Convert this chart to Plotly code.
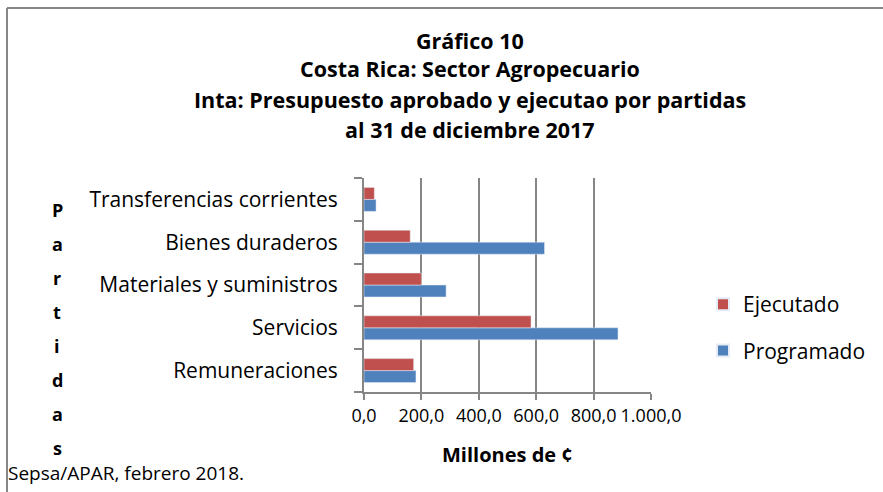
import plotly.graph_objects as go

categories = ["Remuneraciones", "Servicios", "Materiales y suministros",
              "Bienes duraderos", "Transferencias corrientes"]
ejecutado = [173, 582, 200, 161, 36]
programado = [181, 885, 286, 629, 42]
x_ticks = [0, 200, 400, 600, 800, 1000]
axis_letters = list("Partidas")

W, H = 883, 492
L, R, T, B = 364, 651, 178, 392

def px(x):
    return (x - L) / (R - L)

def py(y):
    return (B - y) / (B - T)

FONT = "Open Sans, Liberation Sans, Arial"

fig = go.Figure()
fig.add_trace(go.Bar(y=categories, x=programado, name="Programado", orientation="h",
                     legendgroup="p", legendrank=2, marker=dict(color="#4F81BD")))
fig.add_trace(go.Bar(y=categories, x=ejecutado, name="Ejecutado", orientation="h",
                     legendgroup="e", legendrank=1, marker=dict(color="#C0504D")))

title_lines = ["Gráfico 10", "Costa Rica: Sector Agropecuario",
               "Inta: Presupuesto aprobado y ejecutao por partidas",
               "al 31 de diciembre 2017"]
title_y = [40, 68, 99, 129]
annotations = []
for t, yy in zip(title_lines, title_y):
    annotations.append(dict(text="<b>%s</b>" % t, x=px(470), y=py(yy), xref="paper", yref="paper",
                            showarrow=False, xanchor="center", yanchor="middle",
                            font=dict(size=21.5, family=FONT, color="#000")))
for i, c in enumerate(axis_letters):
    annotations.append(dict(text="<b>%s</b>" % c, x=px(57), y=py(210 + i * 34.0),
                            xref="paper", yref="paper", showarrow=False,
                            xanchor="center", yanchor="middle",
                            font=dict(size=18, family=FONT, color="#000")))
annotations.append(dict(text="<b>Millones de ¢</b>", x=px(507), y=py(454), xref="paper", yref="paper",
                        showarrow=False, xanchor="center", yanchor="middle",
                        font=dict(size=20, family=FONT, color="#000")))
annotations.append(dict(text="Sepsa/APAR, febrero 2018.", x=px(6), y=py(473), xref="paper", yref="paper",
                        showarrow=False, xanchor="left", yanchor="middle",
                        font=dict(size=19, family=FONT, color="#000")))

shapes = [
    dict(type="line", xref="paper", yref="paper", x0=px(7), x1=px(W + 5), y0=py(8), y1=py(8),
         line=dict(color="#878787", width=2)),
    dict(type="line", xref="paper", yref="paper", x0=px(7), x1=px(7), y0=py(8), y1=py(H + 5),
         line=dict(color="#878787", width=2)),
]

fig.update_layout(
    width=W, height=H,
    margin=dict(l=L, r=W - R, t=T, b=H - B, pad=0, autoexpand=False),
    paper_bgcolor="white", plot_bgcolor="white",
    barmode="group", bargap=0.44, bargroupgap=0,
    separators=",.",
    showlegend=True,
    legend=dict(x=px(703), y=py(284), xanchor="left", yanchor="top", traceorder="grouped",
                font=dict(size=21, family=FONT, color="#000"), tracegroupgap=16,
                itemsizing="constant", bgcolor="rgba(0,0,0,0)"),
    annotations=annotations,
    shapes=shapes,
    font=dict(family=FONT, color="#000"),
)
fig.update_xaxes(range=[0, 1000], tickvals=x_ticks, tickformat=",.1f",
                 showgrid=True, gridcolor="#868686", gridwidth=2,
                 showline=True, linecolor="#868686", linewidth=2,
                 ticks="outside", ticklen=6, tickcolor="#868686", tickwidth=2,
                 tickfont=dict(size=18, family=FONT, color="#000"), zeroline=False)
fig.update_yaxes(showgrid=False, showline=True, linecolor="#868686", linewidth=2,
                 ticks="outside", ticklen=8, tickcolor="#868686", tickwidth=2,
                 tickson="boundaries", ticklabelstandoff=20,
                 tickfont=dict(size=21, family=FONT, color="#000"))

fig.write_html("out.html", config={"displayModeBar": False},
               post_script="document.body.style.margin='0';")
